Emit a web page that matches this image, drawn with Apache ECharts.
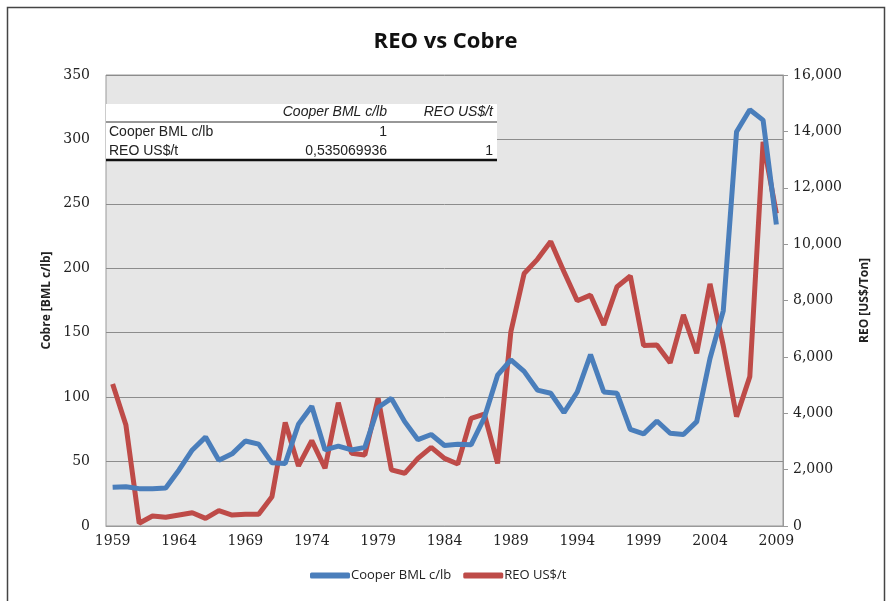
<!DOCTYPE html>
<html>
<head>
<meta charset="utf-8">
<script src="https://cdn.jsdelivr.net/npm/echarts@6/dist/echarts.min.js"></script>
<style>html,body{margin:0;padding:0;background:#fff}#c{width:891px;height:601px}</style>
</head>
<body>
<div id="c"></div>
<script>
const years = [];
for (let y = 1959; y <= 2009; y++) years.push(String(y));

const copper = [30, 30.5, 29, 29, 29.5, 43.5, 59, 69, 51, 56,
  66, 63.5, 49, 48.5, 79, 93, 59, 62, 59, 61,
  92, 99, 81, 67, 71, 62.5, 63.5, 63, 84, 117,
  129, 120, 105.5, 103, 88, 104, 133, 104, 103, 75,
  71.5, 81.5, 72, 71, 81, 130, 167, 306, 323, 315,
  234];

const reo = [5040, 3580, 100, 355, 310, 390, 470, 270, 545, 390,
  415, 415, 1040, 3670, 2130, 3030, 2050, 4375, 2580, 2520,
  4530, 1990, 1870, 2400, 2790, 2400, 2200, 3820, 3970, 2220,
  6890, 8960, 9460, 10090, 9020, 7990, 8190, 7130, 8490, 8870,
  6400, 6420, 5790, 7490, 6130, 8590, 6400, 3880, 5300, 13630,
  11090];

const seriesNames = ['Cooper BML c/lb', 'REO US$/t'];
const tableHeader = ['', 'Cooper BML c/lb', 'REO US$/t'];
const tableRows = [
  ['Cooper BML c/lb', '1', ''],
  ['REO US$/t', '0,535069936', '1']
];

const chart = echarts.init(document.getElementById('c'));
const tickFont = { fontFamily: 'DejaVu Serif', fontSize: 14, color: '#222' };
const tFont = 'Liberation Sans';

const graphics = [
  { type: 'rect', shape: { x: 7.5, y: 7.5, width: 877, height: 620 }, style: { fill: 'none', stroke: '#444', lineWidth: 1.5 }, z: 100 },
  { type: 'rect', shape: { x: 106, y: 104, width: 391, height: 57 }, style: { fill: '#fff' }, z: 50 },
  { type: 'line', shape: { x1: 106, y1: 122, x2: 497, y2: 122 }, style: { stroke: '#333', lineWidth: 1.2 }, z: 51 },
  { type: 'line', shape: { x1: 106, y1: 160, x2: 497, y2: 160 }, style: { stroke: '#111', lineWidth: 2.5 }, z: 51 }
];
// header
graphics.push({ type: 'text', x: 387, y: 112, z: 52, style: { text: tableHeader[1], fontFamily: tFont, fontSize: 14, fontStyle: 'italic', fill: '#222', align: 'right', verticalAlign: 'middle' } });
graphics.push({ type: 'text', x: 493, y: 112, z: 52, style: { text: tableHeader[2], fontFamily: tFont, fontSize: 14, fontStyle: 'italic', fill: '#222', align: 'right', verticalAlign: 'middle' } });
tableRows.forEach((r, i) => {
  const yy = 132 + i * 19;
  graphics.push({ type: 'text', x: 109, y: yy, z: 52, style: { text: r[0], fontFamily: tFont, fontSize: 14, fill: '#222', align: 'left', verticalAlign: 'middle' } });
  graphics.push({ type: 'text', x: 387, y: yy, z: 52, style: { text: r[1], fontFamily: tFont, fontSize: 14, fill: '#222', align: 'right', verticalAlign: 'middle' } });
  graphics.push({ type: 'text', x: 493, y: yy, z: 52, style: { text: r[2], fontFamily: tFont, fontSize: 14, fill: '#222', align: 'right', verticalAlign: 'middle' } });
});

chart.setOption({
  animation: false,
  backgroundColor: '#fff',
  title: {
    text: 'REO vs Cobre', left: 'center', top: 26,
    textStyle: { fontFamily: 'Open Sans', fontWeight: 'bold', fontSize: 22, color: '#111' }
  },
  legend: {
    data: seriesNames, bottom: 14, left: 305, itemWidth: 40, itemHeight: 6, itemGap: 12,
    icon: 'roundRect',
    textStyle: { fontFamily: 'Open Sans', fontSize: 13, color: '#222', padding: [0, 0, 0, -4] }
  },
  grid: { left: 106, right: 108, top: 75, bottom: 75, show: true, backgroundColor: '#e6e6e6', borderColor: '#999', borderWidth: 1 },
  xAxis: {
    type: 'category', data: years, boundaryGap: true,
    axisLine: { show: true, lineStyle: { color: '#999' } },
    axisTick: { show: false },
    axisLabel: Object.assign({ interval: 4, margin: 8 }, tickFont)
  },
  yAxis: [
    {
      type: 'value', min: 0, max: 350, interval: 50, position: 'left',
      name: 'Cobre [BML c/lb]', nameLocation: 'middle', nameGap: 52,
      nameTextStyle: { fontFamily: 'Open Sans', fontSize: 12, fontWeight: 'bold', color: '#222' },
      axisLine: { show: false }, axisTick: { show: false },
      axisLabel: Object.assign({ margin: 16 }, tickFont),
      splitLine: { lineStyle: { color: '#8c8c8c', width: 1 } }
    },
    {
      type: 'value', min: 0, max: 16000, interval: 2000, position: 'right',
      name: 'REO [US$/Ton]', nameLocation: 'middle', nameGap: 76, nameRotate: 90,
      nameTextStyle: { fontFamily: 'Open Sans', fontSize: 12, fontWeight: 'bold', color: '#222' },
      axisLine: { show: true, lineStyle: { color: '#999' } },
      axisTick: { show: true, length: 5, lineStyle: { color: '#999' } },
      axisLabel: Object.assign({ margin: 10, formatter: v => v.toLocaleString('en-US') }, tickFont),
      splitLine: { show: false }
    }
  ],
  series: [
    { name: seriesNames[0], type: 'line', data: copper, yAxisIndex: 0, symbol: 'none', color: '#4A7EBB', lineStyle: { width: 5, color: '#4A7EBB' }, z: 3 },
    { name: seriesNames[1], type: 'line', data: reo, yAxisIndex: 1, symbol: 'none', color: '#BE4B48', lineStyle: { width: 5, color: '#BE4B48' }, z: 2 }
  ],
  graphic: graphics
});
</script>
</body>
</html>
